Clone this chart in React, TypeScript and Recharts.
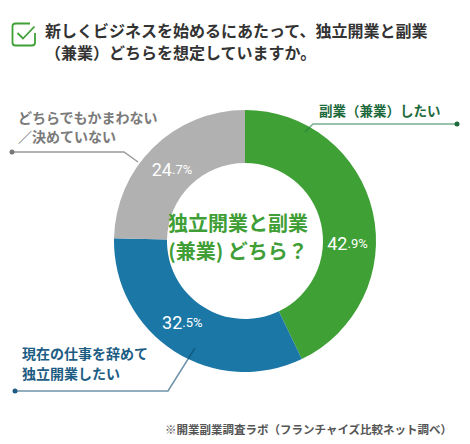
import React from "react";
import { PieChart, Pie, Cell } from "recharts";

const categories = ["副業（兼業）したい", "現在の仕事を辞めて独立開業したい", "どちらでもかまわない／決めていない"];
const values = [42.9, 32.5, 24.7];
const intParts = ["42", "32", "24"];
const decParts = [".9%", ".5%", ".7%"];
const colors = ["#3fa036", "#1b77a6", "#b1b1b1"];
const labelAngleAdjust = [-14, -5, 1];

const data = categories.map((name, i) => ({ name, value: values[i] }));

const FONT = "'Noto Sans CJK JP', 'Noto Sans', sans-serif";
const RAD = Math.PI / 180;

const renderLabel = (props: any) => {
  const { cx, cy, midAngle, innerRadius, outerRadius, index } = props;
  const r = (innerRadius + outerRadius) / 2 - 2;
  const a = (midAngle + labelAngleAdjust[index]) * RAD;
  const x = cx + r * Math.cos(-a);
  const y = cy + r * Math.sin(-a);
  return (
    <text
      x={x}
      y={y}
      textAnchor="middle"
      dominantBaseline="central"
      fill="#fff"
      fontFamily="Roboto, 'Liberation Sans', sans-serif"
    >
      <tspan fontSize={18}>{intParts[index]}</tspan>
      <tspan fontSize={13}>{decParts[index]}</tspan>
    </text>
  );
};

export default function App() {
  return (
    <div style={{ position: "absolute", left: 0, top: 0, width: 470, height: 444, background: "#fff" }}>
      <PieChart width={470} height={444}>
        <Pie
          data={data}
          dataKey="value"
          cx={240}
          cy={236}
          innerRadius={78}
          outerRadius={131}
          startAngle={90}
          endAngle={-270}
          stroke="none"
          label={renderLabel}
          labelLine={false}
          isAnimationActive={false}
        >
          {data.map((d, i) => (
            <Cell key={d.name} fill={colors[i]} />
          ))}
        </Pie>
      </PieChart>
      <svg
        width={470}
        height={444}
        style={{ position: "absolute", left: 0, top: 0, pointerEvents: "none" }}
        fontFamily={FONT}
      >
        {/* title icon */}
        <path
          d="M30 23.5 H15.5 a3 3 0 0 0 -3 3 V42.5 a3 3 0 0 0 3 3 H32 a3 3 0 0 0 3 -3 V33"
          fill="none"
          stroke="#3fa036"
          strokeWidth={1.8}
        />
        <path d="M17.5 33 L23 38.5 L34.5 26.5" fill="none" stroke="#3fa036" strokeWidth={1.8} />
        <text x={45} y={30} fontSize={16} fontWeight={700} fill="#333" dominantBaseline="central">
          新しくビジネスを始めるにあたって、独立開業と副業
        </text>
        <text x={45} y={52} fontSize={16} fontWeight={700} fill="#333" dominantBaseline="central">
          （兼業）どちらを想定していますか。
        </text>

        {/* center text */}
        <text x={238} y={222} fontSize={20} fontWeight={700} fill="#3f9e36" textAnchor="middle" dominantBaseline="central">
          独立開業と副業
        </text>
        <text x={238} y={250} fontSize={20} fontWeight={700} fill="#3f9e36" textAnchor="middle" dominantBaseline="central">
          (兼業) どちら？
        </text>

        {/* green label */}
        <text x={319} y={110} fontSize={13.5} fontWeight={700} fill="#1d6a3c" dominantBaseline="central">
          副業（兼業）したい
        </text>
        <polyline points="305,132 313,124 457,124" fill="none" stroke="#1a7a45" strokeOpacity={0.6} strokeWidth={1.5} />
        <circle cx={457} cy={124} r={2.5} fill="#1d6a3c" />

        {/* gray label */}
        <text x={18} y={117} fontSize={14} fontWeight={700} fill="#7a7a7a" dominantBaseline="central">
          どちらでもかまわない
        </text>
        <text x={18} y={136} fontSize={14} fontWeight={700} fill="#7a7a7a" dominantBaseline="central">
          ／決めていない
        </text>
        <polyline points="12,152 124,152 138,162" fill="none" stroke="#666" strokeOpacity={0.65} strokeWidth={1.5} />
        <circle cx={12} cy={152} r={2.5} fill="#777" />

        {/* blue label */}
        <text x={22} y={353} fontSize={14} fontWeight={700} fill="#1d5d84" dominantBaseline="central">
          現在の仕事を辞めて
        </text>
        <text x={22} y={373} fontSize={14} fontWeight={700} fill="#1d5d84" dominantBaseline="central">
          独立開業したい
        </text>
        <polyline points="15,391 168,391 195,348" fill="none" stroke="#0d4a6e" strokeOpacity={0.6} strokeWidth={1.5} />
        <circle cx={15} cy={391} r={2.5} fill="#1d5d84" />

        {/* footnote */}
        <text x={165} y={429} fontSize={11.5} fontWeight={700} fill="#555" dominantBaseline="central">
          ※開業副業調査ラボ（フランチャイズ比較ネット調べ）
        </text>
      </svg>
    </div>
  );
}
